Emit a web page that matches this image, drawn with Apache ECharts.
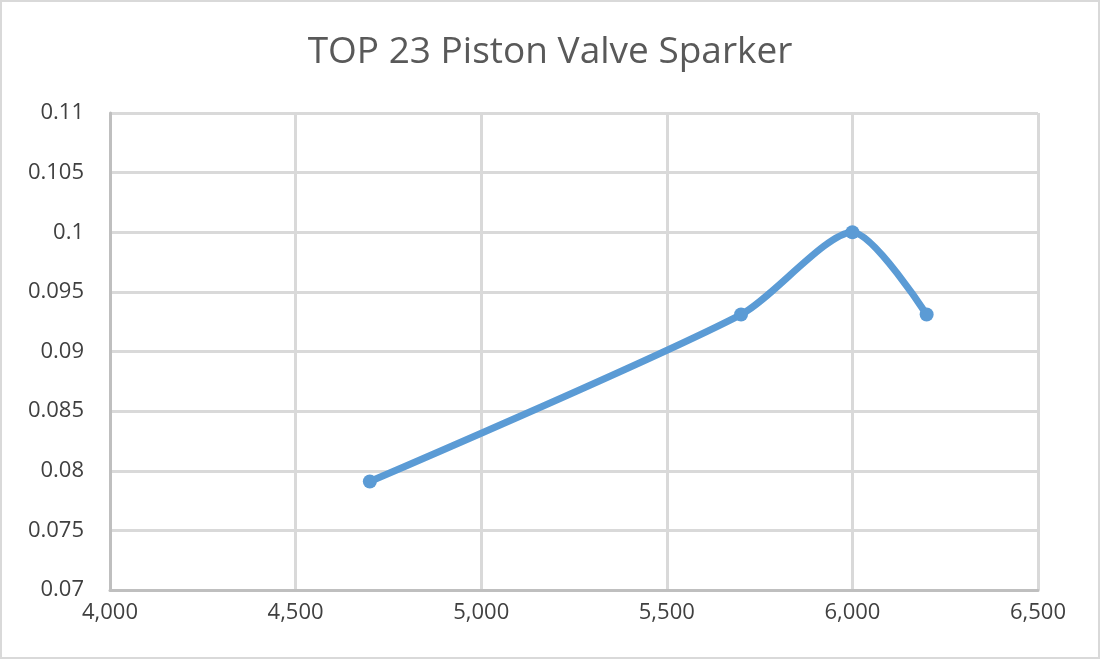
<!DOCTYPE html>
<html><head><meta charset="utf-8">
<script src="https://cdn.jsdelivr.net/npm/echarts@6/dist/echarts.min.js"></script>
<style>html,body{margin:0;padding:0;background:#fff}#c{width:1100px;height:659px;box-sizing:border-box;border:2px solid #d9d9d9}</style>
</head><body><div id="c"></div>
<script>
const titleText = 'TOP 23 Piston Valve Sparker';
const xValues = [4700, 5700, 6000, 6200];
const yValues = [0.0791, 0.0931, 0.1, 0.0931];
const points = xValues.map((x, i) => [x, yValues[i]]);
const chart = echarts.init(document.getElementById('c'));
chart.setOption({
  animation: false,
  title: {text: titleText, left: 'center', top: 27,
    textStyle: {fontFamily: 'Open Sans', fontSize: 37, fontWeight: 'normal', color: '#595959'}},
  grid: {left: 108, right: 60, top: 111, bottom: 67},
  xAxis: {type: 'value', min: 4000, max: 6500, interval: 500,
    axisLine: {lineStyle: {color: '#bfbfbf', width: 3}},
    axisTick: {show: false},
    splitLine: {lineStyle: {color: '#d9d9d9', width: 3}},
    axisLabel: {fontFamily: 'Open Sans', fontSize: 22, color: '#404040', margin: 12,
      formatter: v => v.toLocaleString('en-US')}},
  yAxis: {type: 'value', min: 0.07, max: 0.11, interval: 0.005,
    axisLine: {show: true, lineStyle: {color: '#bfbfbf', width: 3}},
    axisTick: {show: false},
    splitLine: {lineStyle: {color: '#d9d9d9', width: 3}},
    axisLabel: {fontFamily: 'Open Sans', fontSize: 22, color: '#404040', margin: 26,
      formatter: v => String(+v.toFixed(3))}},
  series: [{type: 'line', data: points, smooth: 0.25, symbol: 'circle', symbolSize: 14,
    lineStyle: {color: '#5b9bd5', width: 7}, itemStyle: {color: '#5b9bd5'}}]
});
</script></body></html>
